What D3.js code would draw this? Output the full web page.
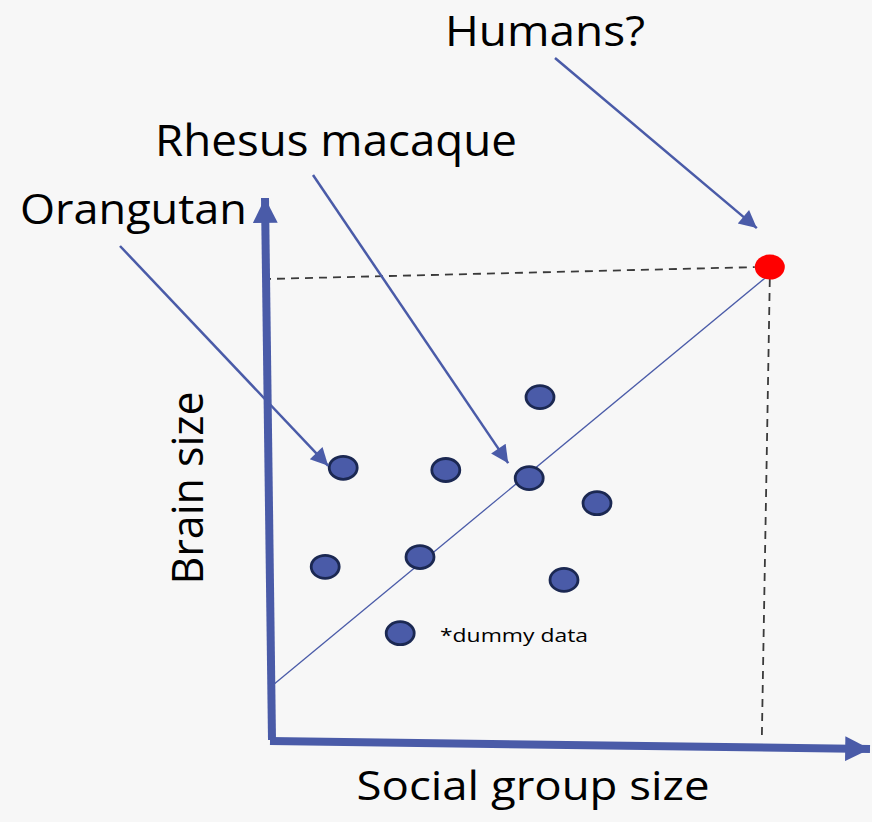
<!DOCTYPE html>
<html>
<head>
<meta charset="utf-8">
<script src="https://cdn.jsdelivr.net/npm/d3@7"></script>
<style>
  html, body { margin: 0; padding: 0; background: #f7f7f7; }
  svg { display: block; }
  text { font-family: "Open Sans", "Noto Sans", sans-serif; fill: #000; }
</style>
</head>
<body>
<div id="chart"></div>
<script>
// dummy data, in arbitrary units (0-100 on each axis)
const species = ["Orangutan", "", "Rhesus macaque", "", "", "", "", "", ""];
const groupSize = [12.2, 29.3, 43.2, 45.0, 54.5, 9.2, 25.0, 49.0, 21.7];
const brainSize = [50.4, 50.0, 48.5, 63.4, 43.9, 32.2, 34.0, 29.8, 20.0];
const humans = { group: 83.3, brain: 87.3 };
// fitted trend line (start and end in data units)
const trendX = [0.3, 83.3];
const trendY = [10.3, 86.0];

const width = 872, height = 822;
const blue = "#4a5ba8", dark = "#1b2852";

const svg = d3.select("#chart").append("svg")
    .attr("width", width)
    .attr("height", height);

const x = d3.scaleLinear().domain([0, 100]).range([270, 870]);
const y = d3.scaleLinear().domain([0, 100]).range([742, 198]);

// arrowheads
const defs = svg.append("defs");
defs.append("marker")
    .attr("id", "big")
    .attr("viewBox", "0 0 10 10")
    .attr("refX", 10).attr("refY", 5)
    .attr("markerWidth", 3.1).attr("markerHeight", 3.1)
    .attr("markerUnits", "strokeWidth")
    .attr("orient", "auto")
    .append("path").attr("d", "M0,0L10,5L0,10Z").attr("fill", blue);
defs.append("marker")
    .attr("id", "small")
    .attr("viewBox", "0 0 10 10")
    .attr("refX", 10).attr("refY", 5)
    .attr("markerWidth", 8).attr("markerHeight", 7)
    .attr("markerUnits", "strokeWidth")
    .attr("orient", "auto")
    .append("path").attr("d", "M0,0L10,5L0,10Z").attr("fill", blue);

// dashed guides from the human point to the axes
svg.append("line")
    .attr("x1", x(0) - 7).attr("y1", y(humans.brain) + 12)
    .attr("x2", x(humans.group) - 15).attr("y2", y(humans.brain))
    .attr("stroke", "#3a3a3a").attr("stroke-width", 1.8)
    .attr("stroke-dasharray", "8,6");
svg.append("line")
    .attr("x1", x(humans.group)).attr("y1", y(humans.brain) + 12)
    .attr("x2", x(humans.group) - 8).attr("y2", y(0) - 2)
    .attr("stroke", "#3a3a3a").attr("stroke-width", 1.8)
    .attr("stroke-dasharray", "8,6");

// trend line
svg.append("line")
    .attr("x1", x(trendX[0])).attr("y1", y(trendY[0]))
    .attr("x2", x(trendX[1])).attr("y2", y(trendY[1]))
    .attr("stroke", blue).attr("stroke-width", 1.3);

// axes (slightly skewed as in the hand-drawn original)
svg.append("line")
    .attr("x1", x(0) + 2).attr("y1", y(0) - 2)
    .attr("x2", x(0) - 5).attr("y2", y(100))
    .attr("stroke", blue).attr("stroke-width", 8)
    .attr("marker-end", "url(#big)");
svg.append("line")
    .attr("x1", x(0)).attr("y1", y(0) - 1)
    .attr("x2", x(100)).attr("y2", y(0) + 7)
    .attr("stroke", blue).attr("stroke-width", 8)
    .attr("marker-end", "url(#big)");

// points
svg.append("g").selectAll("ellipse")
    .data(groupSize.map((g, i) => ({ g, b: brainSize[i], name: species[i] })))
    .join("ellipse")
    .attr("cx", d => x(d.g))
    .attr("cy", d => y(d.b))
    .attr("rx", 14).attr("ry", 11.5)
    .attr("fill", blue)
    .attr("stroke", dark)
    .attr("stroke-width", 2.8);

svg.append("ellipse")
    .attr("cx", x(humans.group)).attr("cy", y(humans.brain))
    .attr("rx", 15).attr("ry", 12.5)
    .attr("fill", "#ff0000");

// annotations: label, label position, arrow start, target point, arrow tip offset from it
const notes = [
  { text: "Humans?", tx: 445, ty: 46, len: 200, fs: 42, sx: 555, sy: 58, px: humans.group, py: humans.brain, ox: -13, oy: -39 },
  { text: "Rhesus macaque", tx: 155, ty: 156, len: 362, fs: 43, sx: 313, sy: 175, px: groupSize[2], py: brainSize[2], ox: -21, oy: -15 },
  { text: "Orangutan", tx: 20, ty: 224, len: 227, fs: 42, sx: 120, sy: 246, px: groupSize[0], py: brainSize[0], ox: -15, oy: -2 }
];

notes.forEach(n => {
  svg.append("line")
      .attr("x1", n.sx).attr("y1", n.sy)
      .attr("x2", x(n.px) + n.ox).attr("y2", y(n.py) + n.oy)
      .attr("stroke", blue).attr("stroke-width", 2.5)
      .attr("marker-end", "url(#small)");
  svg.append("text")
      .attr("x", n.tx).attr("y", n.ty)
      .attr("textLength", n.len).attr("lengthAdjust", "spacingAndGlyphs")
      .style("font-size", n.fs + "px")
      .text(n.text);
});

// axis titles
svg.append("text")
    .attr("transform", "translate(203,488) rotate(-90)")
    .attr("text-anchor", "middle")
    .attr("textLength", 193).attr("lengthAdjust", "spacingAndGlyphs")
    .style("font-size", "44px")
    .text("Brain size");
svg.append("text")
    .attr("x", 533).attr("y", 800)
    .attr("text-anchor", "middle")
    .attr("textLength", 353).attr("lengthAdjust", "spacingAndGlyphs")
    .style("font-size", "40px")
    .text("Social group size");

svg.append("text")
    .attr("x", 440).attr("y", 642)
    .attr("textLength", 148).attr("lengthAdjust", "spacingAndGlyphs")
    .style("font-size", "19px")
    .text("*dummy data");
</script>
</body>
</html>
